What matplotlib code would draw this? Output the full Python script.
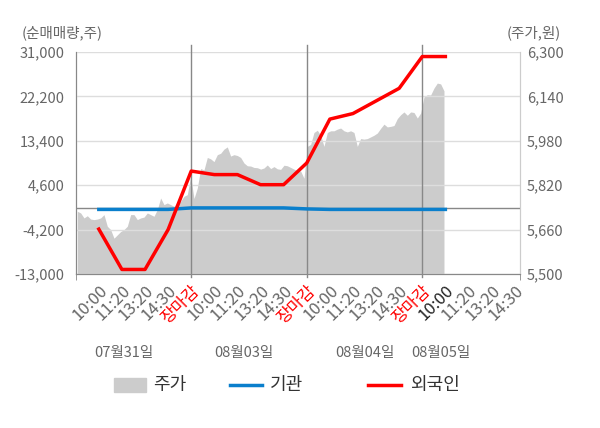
import numpy as np
import matplotlib
matplotlib.use("Agg")
import matplotlib.pyplot as plt
from matplotlib.patches import Rectangle
from matplotlib.lines import Line2D

plt.rcParams['font.family'] = ['Noto Sans CJK KR', 'DejaVu Sans']

# x tick labels (one per slot)
tick_labels = ['10:00', '11:20', '13:20', '14:30', '장마감',
               '10:00', '11:20', '13:20', '14:30', '장마감',
               '10:00', '11:20', '13:20', '14:30', '장마감',
               '10:00', '11:20', '13:20', '14:30']
dates = ['07월31일', '08월03일', '08월04일', '08월05일']

# net buying (shares), at slots 1..16
foreign = [-4100, -12100, -12100, -4200, 7400,
           6700, 6700, 4700, 4700, 9000,
           17700, 18800, 21300, 23800, 30100,
           30100]
inst = [-200, -200, -200, -200, 100,
        100, 100, 100, 100, -100,
        -200, -200, -200, -200, -200,
        -200]

# stock price (won), intraday samples
price = [5726, 5720, 5702, 5710, 5698, 5696, 5698, 5702, 5714, 5672,
         5660, 5629, 5641, 5653, 5660, 5672, 5714, 5714, 5696, 5702,
         5705, 5720, 5714, 5708, 5732, 5774, 5750, 5756, 5750, 5744,
         5756, 5762, 5780, 5786,
         5853, 5772, 5810, 5880, 5875, 5920, 5915, 5905, 5930, 5935,
         5950, 5958, 5925, 5930, 5927, 5920, 5900, 5890, 5889, 5884,
         5883, 5878, 5882, 5893, 5880, 5887, 5879, 5877, 5892, 5890,
         5884, 5878, 5872, 5871, 5845,
         5960, 5967, 6010, 6018, 6000, 5960, 6010, 6016, 6016, 6022,
         6026, 6016, 6012, 6016, 6010, 5960, 5988, 5986, 5988, 5994,
         6000, 6008, 6025, 6040, 6030, 6032, 6035, 6060, 6074, 6084,
         6072, 6084, 6082, 6062, 6080, 6138, 6146, 6145, 6170, 6188,
         6185, 6160]

vol_ticks = [-13000, -4200, 4600, 13400, 22200, 31000]
price_ticks = [5500, 5660, 5820, 5980, 6140, 6300]

grey = '#666666'
blue = '#0a7fcc'
red = '#ff0000'
xmax = 19.23

W, H = 600, 428
fig = plt.figure(figsize=(6, 4.28), dpi=100)
ax = fig.add_axes([75.7 / W, 1 - 274 / H, (520 - 75.7) / W, 222 / H])
ax2 = ax.twinx()
ax.set_zorder(ax2.get_zorder() + 1)
ax.patch.set_visible(False)
ax2.set_facecolor('#f4f4f4')

# price area on the right axis
px = np.linspace(0.07, 15.94, len(price))
ax2.fill_between(px, 5500, price, color='#cccccc', lw=0)
ax2.set_ylim(5500, 6300)
ax2.set_yticks(price_ticks)
ax2.set_yticklabels(['{:,}'.format(v) for v in price_ticks])

# net buying lines on the left axis
slots = np.arange(1, len(foreign) + 1)
ax.set_ylim(-13000, 31000)
ax.set_xlim(0, xmax)
ax.set_yticks(vol_ticks)
ax.set_yticklabels(['{:,}'.format(v) for v in vol_ticks])
ax.grid(axis='y', color='#dddddd', lw=1)
ax.set_axisbelow(True)
ax.axhline(0, color='#888888', lw=1, zorder=1)
for d in [5, 10, 15]:
    ax.axvline(d, ymin=-0.015, ymax=1.03, color='#888888', lw=1,
               clip_on=False, zorder=1)
ax.plot(slots, inst, color=blue, lw=2.5, zorder=3)
ax.plot(slots, foreign, color=red, lw=2.5, zorder=4)

# ticks
ax.set_xticks(np.arange(1, len(tick_labels) + 1))
ax.set_xticklabels(tick_labels, rotation=45, ha='right',
                   rotation_mode='anchor', fontsize=12)
for i, t in enumerate(ax.get_xticklabels()):
    if tick_labels[i] == '장마감':
        t.set_color(red)
    elif i == 15:
        t.set_color('#222222')
    else:
        t.set_color(grey)
ax.tick_params(axis='x', length=0, pad=6)
ax.set_xticks([0, 5, 10, 15, xmax], minor=True)
ax.tick_params(axis='x', which='minor', length=4, color='#888888')
ax.tick_params(axis='y', length=0, pad=8, labelsize=10.5, labelcolor=grey)
ax2.tick_params(axis='y', length=0, pad=5, labelsize=10.5, labelcolor=grey)

for a in (ax, ax2):
    a.spines['top'].set_visible(False)
    a.spines['left'].set_color('#888888')
    a.spines['bottom'].set_color('#888888')
    a.spines['right'].set_color('#cccccc')

# date labels
for xpos, d in zip([2.1, 7.3, 12.5, 15.8], dates):
    ax.text(xpos, -0.355, d, transform=ax.get_xaxis_transform(),
            ha='center', va='center', fontsize=10.5, color=grey)

fig.text(22 / W, 1 - 33 / H, '(순매매량,주)', ha='left', va='center',
         fontsize=10.5, color=grey)
fig.text(561 / W, 1 - 33 / H, '(주가,원)', ha='right', va='center',
         fontsize=10.5, color=grey)

# legend drawn by hand so item spacing follows the reference
ly = 1 - 385 / H
fig.patches.append(Rectangle((114 / W, 1 - 392 / H), 32 / W, 14 / H,
                             transform=fig.transFigure, color='#cccccc'))
fig.lines.append(Line2D([230 / W, 262 / W], [ly, ly], color=blue, lw=2.5,
                        transform=fig.transFigure))
fig.lines.append(Line2D([368 / W, 401 / W], [ly, ly], color=red, lw=2.5,
                        transform=fig.transFigure))
for xpos, lab in zip([153, 270, 410], ['주가', '기관', '외국인']):
    fig.text(xpos / W, ly, lab, ha='left', va='center', fontsize=13,
             color='#333333')

fig.savefig('out.png', dpi=100)
